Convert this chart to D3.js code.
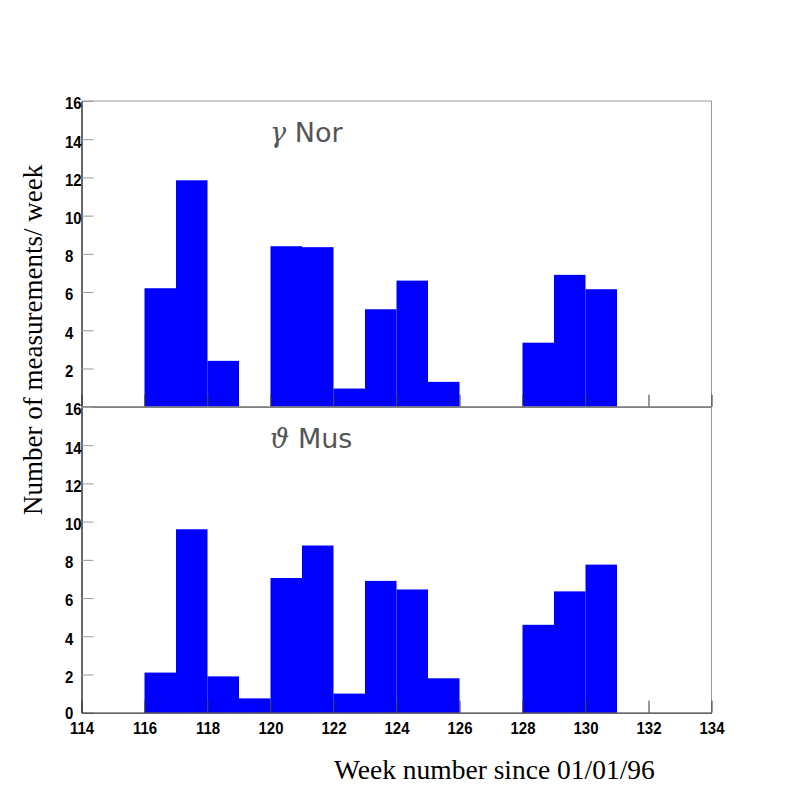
<!DOCTYPE html>
<html>
<head>
<meta charset="utf-8">
<script src="https://cdn.jsdelivr.net/npm/d3@7"></script>
<style>
  body { margin: 0; background: #fff; }
  svg { display: block; }
</style>
</head>
<body>
<svg id="chart" width="793" height="795"></svg>
<script>
// bin start (week number), one bin per week
const weeks = [116, 117, 118, 119, 120, 121, 122, 123, 124, 125, 126, 127, 128, 129, 130];
const norCounts = [6.2, 11.85, 2.4, 0, 8.4, 8.35, 0.95, 5.1, 6.6, 1.3, 0, 0, 3.35, 6.9, 6.15];
const musCounts = [2.1, 9.6, 1.9, 0.75, 7.05, 8.75, 1.0, 6.9, 6.45, 1.8, 0, 0, 4.6, 6.35, 7.75];
const xTicks = [114, 116, 118, 120, 122, 124, 126, 128, 130, 132, 134];
const yTicks = [0, 2, 4, 6, 8, 10, 12, 14, 16];

const svg = d3.select('#chart');

const x = d3.scaleLinear().domain([114, 134]).range([81.5, 711.5]);
const yTop = d3.scaleLinear().domain([0, 16]).range([406.7, 101]);
const yBot = d3.scaleLinear().domain([0, 16]).range([712.7, 407]);

const panels = [
  { y: yTop, counts: norCounts, title: ['γ', ' Nor'], showZero: false },
  { y: yBot, counts: musCounts, title: ['ϑ', ' Mus'], showZero: true }
];

const labelFont = (sel) => sel
  .style('font-family', 'Liberation Sans, Arial, sans-serif')
  .style('font-weight', 'bold')
  .style('font-size', '17px')
  .attr('fill', '#000');

panels.forEach((p, i) => {
  const g = svg.append('g');

  // frame top + right (gray)
  g.append('path')
    .attr('d', `M${x(114)},${p.y(16)}H${x(134)}V${p.y(0)}`)
    .attr('fill', 'none')
    .attr('stroke', '#999')
    .attr('stroke-width', 1);

  g.selectAll('rect.bin')
    .data(weeks.map((w, j) => ({ w: w, v: p.counts[j] })).filter((d) => d.v > 0))
    .enter()
    .append('rect')
    .attr('class', 'bin')
    .attr('x', (d) => x(d.w))
    .attr('width', (d) => x(d.w + 1) - x(d.w))
    .attr('y', (d) => p.y(d.v))
    .attr('height', (d) => p.y(0) - p.y(d.v))
    .attr('fill', '#0000ff');

  // y axis, ticks pointing inward, labels left aligned
  const ya = g.append('g')
    .attr('transform', `translate(${x(114)},0)`)
    .call(d3.axisLeft(p.y).tickValues(yTicks).tickSizeInner(-12).tickSizeOuter(0).tickPadding(0));
  ya.select('.domain').attr('stroke', '#000').attr('stroke-width', 1.2);
  ya.selectAll('.tick line').attr('stroke', '#999');
  ya.selectAll('.tick text')
    .attr('x', 0)
    .attr('dy', '0.4em')
    .attr('text-anchor', 'start')
    .attr('transform', (d) => `translate(-16.5,${d === 0 ? -1.5 : 1}) scale(0.88,1)`)
    .call(labelFont)
    .attr('display', (d) => (d === 0 && !p.showZero ? 'none' : null));

  // x axis, ticks pointing up
  const xa = g.append('g')
    .attr('transform', `translate(0,${p.y(0)})`)
    .call(d3.axisBottom(x).tickValues(xTicks).tickSizeInner(-12).tickSizeOuter(0).tickPadding(0));
  xa.select('.domain').attr('stroke', '#333').attr('stroke-width', 1.3);
  xa.selectAll('.tick line').attr('stroke', '#333');
  xa.selectAll('.tick text')
    .attr('y', 0)
    .attr('dy', 0)
    .attr('transform', 'translate(0,21.5) scale(0.88,1)')
    .call(labelFont)
    .attr('display', i === 1 ? null : 'none');

  // star name
  const t = g.append('text')
    .attr('x', 270)
    .attr('y', p.y(16) + 41)
    .attr('fill', '#555')
    .style('font-family', 'DejaVu Sans, sans-serif')
    .style('font-size', '27px');
  t.append('tspan')
    .style('font-family', 'DejaVu Serif, serif')
    .style('font-style', 'italic')
    .text(p.title[0]);
  t.append('tspan').text(p.title[1]);
});

svg.append('text')
  .attr('x', 334)
  .attr('y', 779)
  .style('font-family', 'Liberation Serif, Times New Roman, serif')
  .style('font-size', '27.5px')
  .attr('fill', '#000')
  .text('Week number since 01/01/96');

svg.append('text')
  .attr('transform', 'translate(42,515) rotate(-90)')
  .style('font-family', 'Liberation Serif, Times New Roman, serif')
  .style('font-size', '27px')
  .attr('fill', '#000')
  .text('Number of measurements/ week');
</script>
</body>
</html>
